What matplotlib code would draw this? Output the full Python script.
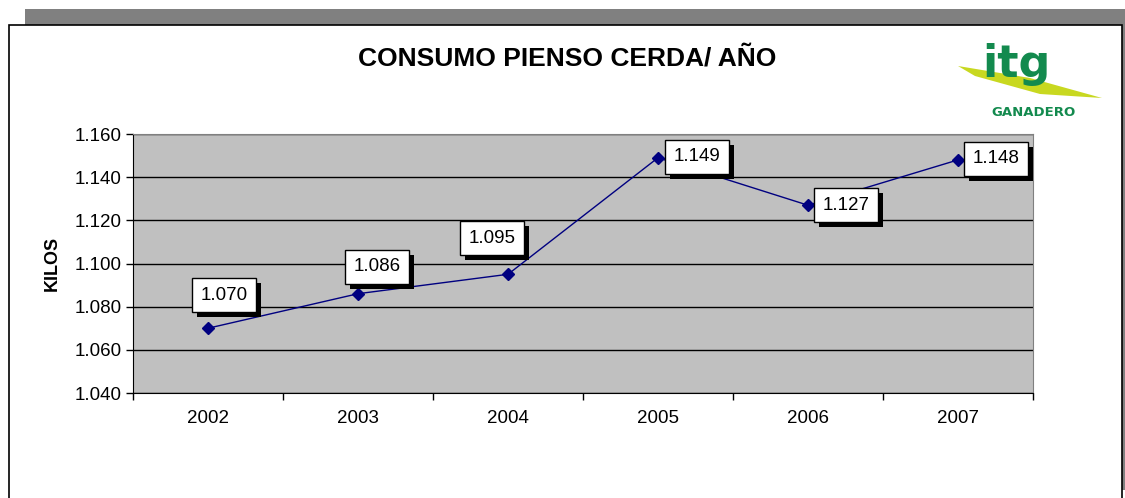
import matplotlib.pyplot as plt
import matplotlib.patheffects as pe
from matplotlib.patches import Rectangle, Polygon
from matplotlib.ticker import FuncFormatter

plt.rcParams['font.family'] = ['Liberation Sans', 'DejaVu Sans']

# Datos
anios = ['2002', '2003', '2004', '2005', '2006', '2007']
kilos = [1070, 1086, 1095, 1149, 1127, 1148]
# desplazamiento de cada etiqueta (px) respecto al punto
desp_x = [16, 19, -16, 39, 38, 38]
desp_y = [33, 27, 36, 1, 0, 1]

def miles(v, pos=None):
    return f"{int(round(v)):,}".replace(',', '.')

fig = plt.figure(figsize=(11.25, 4.98), dpi=100)
W, H = 1125, 498

def rect_px(x0, y0, x1, y1, **kw):
    fig.patches.append(Rectangle((x0 / W, 1 - y1 / H), (x1 - x0) / W, (y1 - y0) / H,
                                 transform=fig.transFigure, zorder=-5, **kw))

# sombra gris y marco
rect_px(25, 9, 1125, 25, facecolor='#808080', edgecolor='none')
rect_px(1122, 9, 1125, 490, facecolor='#808080', edgecolor='none')
rect_px(9, 25, 1122, 520, facecolor='white', edgecolor='black', linewidth=1.2)

ax = fig.add_axes([133 / W, 1 - 393 / H, 900 / W, 259 / H])
ax.set_facecolor('#C0C0C0')
x = list(range(len(anios)))
ax.plot(x, kilos, color='#000080', linewidth=1, marker='D', markersize=6.5, zorder=3)

ax.set_xlim(-0.5, len(anios) - 0.5)
ax.set_ylim(1040, 1160)
ax.set_yticks(range(1040, 1161, 20))
ax.yaxis.set_major_formatter(FuncFormatter(miles))
ax.grid(axis='y', color='black', linewidth=1)
ax.set_axisbelow(True)

ax.set_xticks([i - 0.5 for i in range(len(anios) + 1)])
ax.set_xticklabels([])
ax.set_xticks(x, minor=True)
ax.set_xticklabels(anios, minor=True)
ax.tick_params(axis='x', which='minor', length=0, pad=12, labelsize=13.5)
ax.tick_params(axis='x', which='major', length=5, direction='out', width=1)
ax.tick_params(axis='y', length=5, direction='out', width=1, labelsize=13.5, pad=3)

for s in ['top', 'right']:
    ax.spines[s].set_color('#808080')
for s in ['left', 'bottom']:
    ax.spines[s].set_color('black')

ax.set_ylabel('KILOS', fontsize=13, fontweight='bold', labelpad=10)

# etiquetas con sombra
for xi, v, dx, dy in zip(x, kilos, desp_x, desp_y):
    t = ax.annotate(miles(v), (xi, v), xytext=(dx, dy), textcoords='offset pixels',
                    ha='center', va='center', fontsize=13.5, color='black', zorder=5,
                    bbox=dict(boxstyle='square,pad=0.45', facecolor='white',
                              edgecolor='black', linewidth=1))
    t.get_bbox_patch().set_path_effects([
        pe.SimplePatchShadow(offset=(3.5, -3.5), shadow_rgbFace='black', alpha=1),
        pe.Normal()])

fig.text(567 / W, 1 - 59 / H, 'CONSUMO PIENSO CERDA/ AÑO', ha='center', va='center',
         fontsize=19, fontweight='bold')

# logo aproximado
fig.patches.append(Polygon([(958 / W, 1 - 66 / H), (1030 / W, 1 - 78 / H), (1102 / W, 1 - 98 / H),
                            (1040 / W, 1 - 94 / H), (975 / W, 1 - 76 / H)],
                           closed=True, transform=fig.transFigure,
                           facecolor='#C8D820', edgecolor='none'))
fig.text(1016 / W, 1 - 64 / H, 'itg', ha='center', va='center', fontsize=32,
         fontweight='bold', color='#138A4E', family='DejaVu Sans')
fig.text(1033 / W, 1 - 113 / H, 'GANADERO', ha='center', va='center', fontsize=9.5,
         fontweight='bold', color='#138A4E', family='DejaVu Sans')

fig.savefig('out.png', dpi=100)
